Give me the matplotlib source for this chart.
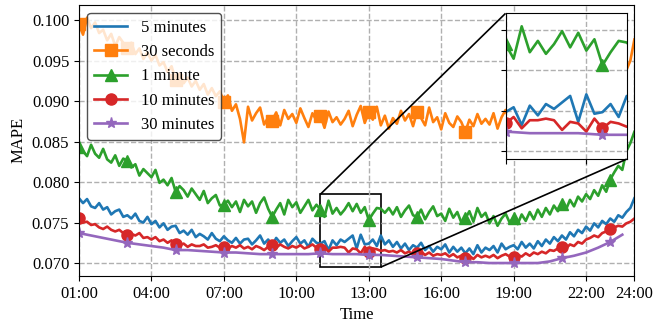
import numpy as np
import matplotlib
matplotlib.use('Agg')
import matplotlib.pyplot as plt
from matplotlib.ticker import FormatStrFormatter
from mpl_toolkits.axes_grid1.inset_locator import mark_inset

plt.rcParams['font.family'] = ['Liberation Serif', 'DejaVu Serif']
plt.rcParams['font.size'] = 12

# time axis (hours), 10-minute samples from 01:00 to 24:00, 30-minute samples to 23:30
hours_10min = np.linspace(1, 24, 139)
hours_30min = np.linspace(1, 23.5, 46)

mape_5min = [
    0.0780, 0.0774, 0.0779, 0.0770, 0.0768, 0.0774,
    0.0766, 0.0769, 0.0760, 0.0764, 0.0766, 0.0757,
    0.0759, 0.0755, 0.0761, 0.0752, 0.0750, 0.0757,
    0.0748, 0.0752, 0.0744, 0.0749, 0.0741, 0.0745,
    0.0746, 0.0737, 0.0740, 0.0735, 0.0741, 0.0732,
    0.0736, 0.0733, 0.0729, 0.0737, 0.0730, 0.0727,
    0.0733, 0.0728, 0.0725, 0.0731, 0.0724, 0.0729,
    0.0730, 0.0723, 0.0728, 0.0734, 0.0724, 0.0729,
    0.0722, 0.0731, 0.0725, 0.0729, 0.0721, 0.0727,
    0.0732, 0.0724, 0.0728, 0.0720, 0.0730, 0.0725,
    0.0724, 0.0727, 0.0716, 0.0728, 0.0722, 0.0729,
    0.0726, 0.0730, 0.0734, 0.0718, 0.0735, 0.0723,
    0.0724, 0.0729, 0.0721, 0.0734, 0.0723, 0.0728,
    0.0720, 0.0726, 0.0718, 0.0724, 0.0716, 0.0722,
    0.0719, 0.0725, 0.0716, 0.0721, 0.0714, 0.0720,
    0.0717, 0.0723, 0.0713, 0.0720, 0.0714, 0.0719,
    0.0712, 0.0718, 0.0711, 0.0722, 0.0713, 0.0719,
    0.0716, 0.0721, 0.0713, 0.0724, 0.0717, 0.0720,
    0.0722, 0.0717, 0.0726, 0.0719, 0.0724, 0.0718,
    0.0727, 0.0721, 0.0729, 0.0724, 0.0732, 0.0727,
    0.0734, 0.0729, 0.0738, 0.0733, 0.0741, 0.0737,
    0.0745, 0.0740, 0.0749, 0.0744, 0.0752, 0.0748,
    0.0755, 0.0751, 0.0759, 0.0756, 0.0763, 0.0768,
    0.0780]

mape_30sec = [
    0.0995, 0.0982, 0.1003, 0.0990, 0.0997, 0.0984,
    0.0988, 0.0975, 0.0983, 0.0968, 0.0979, 0.0972,
    0.0966, 0.0972, 0.0958, 0.0965, 0.0952, 0.0960,
    0.0950, 0.0957, 0.0944, 0.0948, 0.0936, 0.0943,
    0.0926, 0.0934, 0.0922, 0.0929, 0.0918, 0.0925,
    0.0914, 0.0921, 0.0908, 0.0916, 0.0906, 0.0912,
    0.0899, 0.0907, 0.0888, 0.0896, 0.0878, 0.0849,
    0.0893, 0.0876, 0.0885, 0.0892, 0.0871, 0.0880,
    0.0876, 0.0886, 0.0870, 0.0889, 0.0878, 0.0884,
    0.0873, 0.0891, 0.0879, 0.0868, 0.0885, 0.0876,
    0.0882, 0.0867, 0.0887, 0.0874, 0.0880, 0.0871,
    0.0878, 0.0888, 0.0869, 0.0883, 0.0894, 0.0873,
    0.0886, 0.0877, 0.0893, 0.0870, 0.0882, 0.0866,
    0.0879, 0.0872, 0.0888, 0.0876, 0.0884, 0.0869,
    0.0887, 0.0879, 0.0870, 0.0892, 0.0874, 0.0880,
    0.0865, 0.0885, 0.0873, 0.0868, 0.0881, 0.0874,
    0.0862, 0.0877, 0.0869, 0.0884, 0.0872, 0.0878,
    0.0871, 0.0885, 0.0866, 0.0880, 0.0889, 0.0875,
    0.0882, 0.0870, 0.0887, 0.0876, 0.0868, 0.0879,
    0.0884, 0.0873, 0.0880, 0.0869, 0.0886, 0.0877,
    0.0871, 0.0883, 0.0875, 0.0888, 0.0872, 0.0879,
    0.0885, 0.0874, 0.0881, 0.0868, 0.0887, 0.0878,
    0.0879, 0.0886, 0.0893, 0.0905, 0.0938, 0.0950,
    0.0976]

mape_1min = [
    0.0843, 0.0838, 0.0832, 0.0846, 0.0835, 0.0830,
    0.0841, 0.0828, 0.0824, 0.0833, 0.0820, 0.0829,
    0.0826, 0.0818, 0.0822, 0.0808, 0.0816, 0.0811,
    0.0806, 0.0815, 0.0799, 0.0803, 0.0796, 0.0805,
    0.0788, 0.0795, 0.0790, 0.0782, 0.0792, 0.0785,
    0.0778, 0.0789, 0.0774, 0.0780, 0.0784, 0.0771,
    0.0772, 0.0777, 0.0769, 0.0776, 0.0763, 0.0778,
    0.0770, 0.0776, 0.0762, 0.0774, 0.0781, 0.0767,
    0.0757, 0.0766, 0.0774, 0.0760, 0.0778, 0.0769,
    0.0775, 0.0762, 0.0770, 0.0778, 0.0765, 0.0772,
    0.0766, 0.0757, 0.0777, 0.0761, 0.0768, 0.0760,
    0.0766, 0.0774, 0.0764, 0.0773, 0.0762, 0.0769,
    0.0753, 0.0761, 0.0768, 0.0767, 0.0762, 0.0768,
    0.0760, 0.0769, 0.0757, 0.0765, 0.0771, 0.0759,
    0.0757, 0.0766, 0.0754, 0.0763, 0.0770, 0.0758,
    0.0761, 0.0752, 0.0767, 0.0756, 0.0763, 0.0750,
    0.0755, 0.0764, 0.0751, 0.0768, 0.0757, 0.0762,
    0.0749, 0.0758, 0.0746, 0.0755, 0.0761, 0.0750,
    0.0756, 0.0748, 0.0760, 0.0752, 0.0763, 0.0754,
    0.0766, 0.0757, 0.0768, 0.0760, 0.0771, 0.0764,
    0.0773, 0.0766, 0.0778, 0.0770, 0.0782, 0.0776,
    0.0785, 0.0779, 0.0790, 0.0783, 0.0796, 0.0788,
    0.0803, 0.0812, 0.0820, 0.0815, 0.0838, 0.0848,
    0.0862]

mape_10min = [
    0.0756, 0.0750, 0.0751, 0.0747, 0.0748, 0.0744,
    0.0742, 0.0745, 0.0741, 0.0739, 0.0741, 0.0737,
    0.0735, 0.0736, 0.0734, 0.0737, 0.0731, 0.0732,
    0.0729, 0.0732, 0.0727, 0.0729, 0.0725, 0.0728,
    0.0723, 0.0722, 0.0724, 0.0720, 0.0723, 0.0721,
    0.0721, 0.0723, 0.0719, 0.0720, 0.0722, 0.0719,
    0.0720, 0.0718, 0.0721, 0.0719, 0.0722, 0.0718,
    0.0720, 0.0717, 0.0721, 0.0719, 0.0716, 0.0720,
    0.0722, 0.0719, 0.0723, 0.0720, 0.0718, 0.0721,
    0.0719, 0.0722, 0.0718, 0.0720, 0.0723, 0.0719,
    0.0717, 0.0721, 0.0714, 0.0719, 0.0719, 0.0720,
    0.0719, 0.0713, 0.0718, 0.0717, 0.0712, 0.0720,
    0.0714, 0.0718, 0.0717, 0.0715, 0.0716, 0.0714,
    0.0715, 0.0713, 0.0716, 0.0712, 0.0714, 0.0711,
    0.0712, 0.0714, 0.0710, 0.0713, 0.0709, 0.0711,
    0.0710, 0.0712, 0.0708, 0.0711, 0.0707, 0.0709,
    0.0706, 0.0709, 0.0705, 0.0710, 0.0707, 0.0709,
    0.0707, 0.0710, 0.0706, 0.0709, 0.0711, 0.0708,
    0.0707, 0.0710, 0.0708, 0.0712, 0.0709, 0.0713,
    0.0711, 0.0714, 0.0712, 0.0716, 0.0715, 0.0718,
    0.0720, 0.0718, 0.0723, 0.0721, 0.0726, 0.0724,
    0.0729, 0.0731, 0.0734, 0.0732, 0.0737, 0.0739,
    0.0742, 0.0744, 0.0746, 0.0745, 0.0749, 0.0751,
    0.0755]

mape_30min = [
    0.0737, 0.0734, 0.0731, 0.0728, 0.0725, 0.0723, 0.0721, 0.0719,
    0.0716, 0.0716, 0.0715, 0.0714, 0.0713, 0.0713, 0.0712, 0.0711,
    0.0711, 0.0711, 0.0711, 0.0711, 0.0712, 0.0711, 0.0711, 0.0711,
    0.0710, 0.0710, 0.0709, 0.0708, 0.0707, 0.0706, 0.0705, 0.0703,
    0.0701, 0.0701, 0.0700, 0.0700, 0.0700, 0.0700, 0.0700, 0.0702,
    0.0706, 0.0709, 0.0713, 0.0719, 0.0726, 0.0735]

xtick_pos = [1, 4, 7, 10, 13, 16, 19, 22, 24]
xtick_labels = ['01:00', '04:00', '07:00', '10:00', '13:00', '16:00', '19:00', '22:00', '24:00']
ytick_pos = [0.070, 0.075, 0.080, 0.085, 0.090, 0.095, 0.100]

series = [
    (hours_10min, mape_5min, '5 minutes', 'C0', None, 12),
    (hours_10min, mape_30sec, '30 seconds', 'C1', 's', 12),
    (hours_10min, mape_1min, '1 minute', 'C2', '^', 12),
    (hours_10min, mape_10min, '10 minutes', 'C3', 'o', 12),
    (hours_30min, mape_30min, '30 minutes', 'C4', '*', 4),
]

fig = plt.figure(figsize=(6.54, 3.26), dpi=100)
ax = fig.add_axes([0.1208, 0.1534, 0.8492, 0.8322])

def draw(a):
    for x, y, lab, c, m, me in series:
        a.plot(x, y, color=c, lw=1.9, marker=m, markevery=me, markersize=8, label=lab)

draw(ax)
ax.set_xlim(1, 24)
ax.set_ylim(0.0684, 0.1019)
ax.set_xticks(xtick_pos)
ax.set_xticklabels(xtick_labels)
ax.set_yticks(ytick_pos)
ax.yaxis.set_major_formatter(FormatStrFormatter('%.3f'))
ax.grid(True, linestyle='--', color='#b0b0b0', linewidth=1)
ax.set_xlabel('Time', labelpad=4)
ax.set_ylabel('MAPE')
leg = ax.legend(loc='upper left', edgecolor='0.15', fontsize=12)

axins = fig.add_axes([0.773, 0.512, 0.1853, 0.447])
draw(axins)
axins.set_xlim(11, 13.5)
axins.set_ylim(0.0695, 0.0785)
axins.set_xticks([11, 12 + 2 / 3])
axins.set_yticks([0.070, 0.0725, 0.075, 0.0775])
axins.set_xticklabels([])
axins.set_yticklabels([])
axins.grid(True, linestyle='--', color='#b0b0b0', linewidth=1)
mark_inset(ax, axins, loc1=2, loc2=4, fc='none', ec='black', lw=1.2)

fig.savefig('out.png', dpi=100)
